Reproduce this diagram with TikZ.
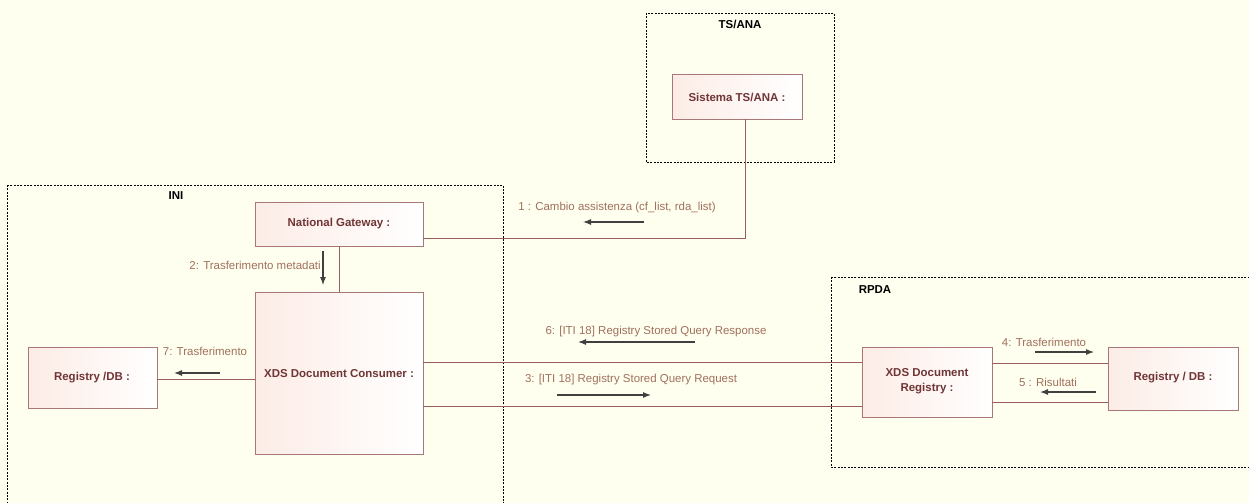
\documentclass[tikz,border=0pt]{standalone}
\usepackage{fontspec}
\setmainfont{Liberation Sans}
\usetikzlibrary{arrows.meta}
\definecolor{bg}{HTML}{FFFFF0}
\definecolor{boxline}{HTML}{A87878}
\definecolor{boxpink}{HTML}{FCECE6}
\definecolor{nametext}{HTML}{703535}
\definecolor{labeltext}{HTML}{A0705C}
\definecolor{conn}{HTML}{9A5E5E}
\tikzset{
  px/.style={x=0.75pt,y=-0.75pt},
  part/.style={draw=boxline, line width=0.75pt, left color=boxpink, right color=white, shading=axis},
  partname/.style={font=\fontsize{8.6pt}{10pt}\selectfont\bfseries, text=nametext, align=center, inner sep=0pt},
  frame/.style={draw=black, line width=0.6pt, dash pattern=on 1.6pt off 0.9pt},
  framelabel/.style={font=\fontsize{8.6pt}{10pt}\selectfont\bfseries, text=black, inner sep=0pt},
  msg/.style={font=\fontsize{8.6pt}{10pt}\selectfont, text=labeltext, inner sep=0pt},
  link/.style={draw=conn, line width=0.7pt},
  arr/.style={draw=black!75, line width=0.8pt, -{Latex[length=6pt,width=4.5pt]}}
}
\begin{document}
\begin{tikzpicture}[px]
\useasboundingbox (0,0) rectangle (1249,503);
\clip (0,0) rectangle (1249,503);
\fill[bg] (0,0) rectangle (1249,503);
% frames
\draw[frame] (646,13) rectangle (834,162);
\node[framelabel] (lts) at (740,24) {TS/ANA};
\draw[frame] (7,185) rectangle (503,520);
\node[framelabel] (lini) at (176,196) {INI};
\draw[frame] (831,277) rectangle (1262,467);
\node[framelabel] (lrpda) at (875,290) {RPDA};
% parts
\path[part] (672,75) rectangle (802,119);
\node[partname] (ts) at (737,97) {Sistema TS/ANA :};
\coordinate (tsb) at (745,119);
\path[part] (255,202) rectangle (423,246);
\node[partname] (ng) at (339,224) {National Gateway :};
\coordinate (ngr) at (423,238);
\coordinate (ngb) at (339,246);
\path[part] (255,292) rectangle (423,454);
\node[partname] (xc) at (339,374) {XDS Document Consumer :};
\coordinate (xct) at (339,292);
\coordinate (xcl) at (255,379);
\coordinate (xcr1) at (423,362);
\coordinate (xcr2) at (423,406);
\path[part] (28,347) rectangle (157,408);
\node[partname] (rdb1) at (92,378) {Registry /DB :};
\coordinate (rdb1r) at (157,379);
\path[part] (862,347) rectangle (992,417);
\node[partname] (xr) at (927,381) {XDS Document\\[1pt]Registry :};
\coordinate (xrl1) at (862,362);
\coordinate (xrl2) at (862,406);
\coordinate (xrr1) at (992,363);
\coordinate (xrr2) at (992,402);
\path[part] (1108,347) rectangle (1238,410);
\node[partname] (rdb2) at (1173,378) {Registry / DB :};
\coordinate (rdb2l1) at (1108,363);
\coordinate (rdb2l2) at (1108,402);
% connectors
\draw[link] (tsb) |- (ngr);
\draw[link] (ngb) -- (xct);
\draw[link] (rdb1r) -- (xcl);
\draw[link] (xcr1) -- (xrl1);
\draw[link] (xcr2) -- (xrl2);
\draw[link] (xrr1) -- (rdb2l1);
\draw[link] (xrr2) -- (rdb2l2);
% messages
\node[msg] (m1) at (617,208) {1 : Cambio assistenza (cf\_list, rda\_list)};
\coordinate (a1s) at (644,222); \coordinate (a1e) at (583,222);
\draw[arr] (a1s) -- (a1e);
\node[msg, anchor=east] (m2) at (321,265) {2: Trasferimento metadati};
\coordinate (a2s) at (323,251); \coordinate (a2e) at (323,285);
\draw[arr] (a2s) -- (a2e);
\node[msg] (m7) at (205,351) {7: Trasferimento};
\coordinate (a7s) at (220,373); \coordinate (a7e) at (174,373);
\draw[arr] (a7s) -- (a7e);
\node[msg] (m6) at (656,332) {6: [ITI 18] Registry Stored Query Response};
\coordinate (a6s) at (695,342); \coordinate (a6e) at (578,342);
\draw[arr] (a6s) -- (a6e);
\node[msg] (m3) at (631,380) {3: [ITI 18] Registry Stored Query Request};
\coordinate (a3s) at (557,395); \coordinate (a3e) at (651,395);
\draw[arr] (a3s) -- (a3e);
\node[msg] (m4) at (1044,342) {4: Trasferimento};
\coordinate (a4s) at (1035,352); \coordinate (a4e) at (1094,352);
\draw[arr] (a4s) -- (a4e);
\node[msg] (m5) at (1048,382) {5 : Risultati};
\coordinate (a5s) at (1096,392); \coordinate (a5e) at (1040,392);
\draw[arr] (a5s) -- (a5e);
\end{tikzpicture}
\end{document}
